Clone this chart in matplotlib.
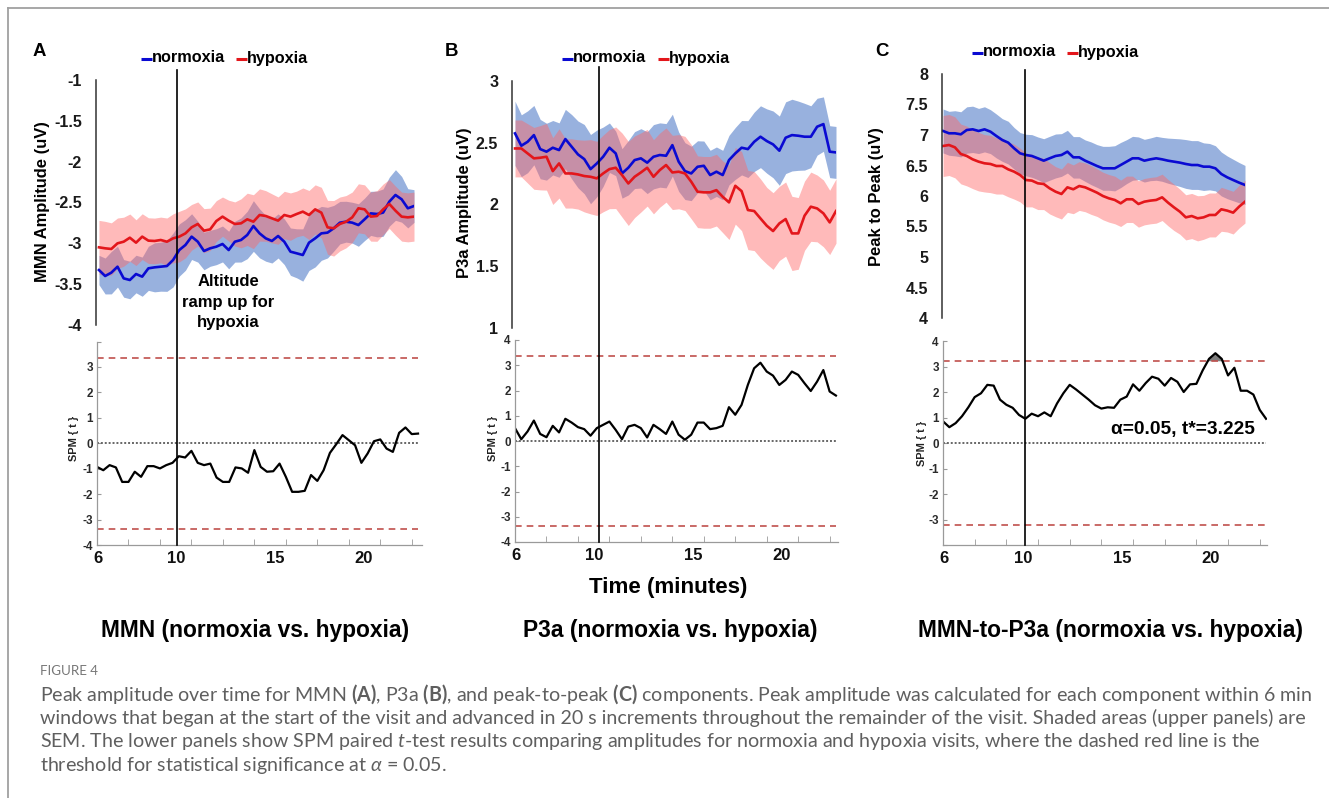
import numpy as np
import matplotlib
matplotlib.use("Agg")
import matplotlib.pyplot as plt
from matplotlib.lines import Line2D
from matplotlib.transforms import blended_transform_factory

# ------------------------------------------------------------------ data
t_start_min = 6.0
t_step_min = 20 / 60          # windows advance in 20 s steps
n_windows = 52
time_min = t_start_min + t_step_min * np.arange(n_windows)

mmn_normoxia = [-3.327, -3.400, -3.359, -3.286, -3.429, -3.449, -3.376, -3.408, -3.306, -3.294,
                -3.286, -3.278, -3.204, -3.082, -3.020, -2.918, -2.980, -3.094, -3.061, -3.041,
                -3.008, -3.082, -2.980, -2.959, -2.898, -2.788, -2.878, -2.939, -2.971, -2.910,
                -2.980, -3.102, -3.122, -3.143, -2.992, -2.939, -2.878, -2.869, -2.816, -2.747,
                -2.735, -2.747, -2.776, -2.706, -2.633, -2.641, -2.624, -2.490, -2.408, -2.461,
                -2.571, -2.543]
mmn_normoxia_sem = [0.18, 0.22, 0.26, 0.25, 0.23, 0.23, 0.23, 0.24, 0.27, 0.30,
                    0.30, 0.31, 0.33, 0.32, 0.31, 0.28, 0.25, 0.23, 0.22, 0.22,
                    0.22, 0.23, 0.25, 0.27, 0.29, 0.31, 0.30, 0.28, 0.27, 0.27,
                    0.28, 0.29, 0.30, 0.32, 0.34, 0.35, 0.33, 0.31, 0.28, 0.26,
                    0.25, 0.25, 0.26, 0.26, 0.27, 0.28, 0.29, 0.30, 0.31, 0.28,
                    0.24, 0.20]
mmn_hypoxia = [-3.049, -3.061, -3.069, -3.000, -2.980, -2.931, -2.992, -2.918, -2.967, -2.971,
               -2.959, -2.980, -2.939, -2.918, -2.878, -2.804, -2.763, -2.845, -2.829, -2.727,
               -2.673, -2.722, -2.763, -2.755, -2.706, -2.735, -2.653, -2.665, -2.694, -2.722,
               -2.653, -2.673, -2.641, -2.612, -2.653, -2.584, -2.624, -2.804, -2.816, -2.763,
               -2.735, -2.682, -2.571, -2.584, -2.673, -2.665, -2.584, -2.518, -2.600, -2.673,
               -2.682, -2.673]
mmn_hypoxia_sem = [0.33, 0.33, 0.32, 0.31, 0.30, 0.29, 0.28, 0.28, 0.28, 0.28,
                   0.28, 0.29, 0.30, 0.31, 0.30, 0.28, 0.27, 0.27, 0.26, 0.25,
                   0.24, 0.25, 0.27, 0.30, 0.32, 0.33, 0.32, 0.31, 0.30, 0.29,
                   0.29, 0.29, 0.28, 0.29, 0.30, 0.30, 0.31, 0.33, 0.34, 0.33,
                   0.32, 0.31, 0.30, 0.30, 0.30, 0.31, 0.31, 0.30, 0.30, 0.30,
                   0.30, 0.30]

p3a_normoxia = [2.574, 2.474, 2.506, 2.560, 2.447, 2.426, 2.458, 2.439, 2.528, 2.466,
                2.404, 2.366, 2.285, 2.331, 2.385, 2.458, 2.412, 2.250, 2.296, 2.358,
                2.372, 2.337, 2.385, 2.399, 2.393, 2.479, 2.345, 2.269, 2.250, 2.304,
                2.312, 2.237, 2.264, 2.237, 2.358, 2.412, 2.458, 2.447, 2.506, 2.547,
                2.512, 2.485, 2.434, 2.539, 2.560, 2.555, 2.547, 2.547, 2.628, 2.649,
                2.426, 2.420]
p3a_normoxia_sem = [0.26, 0.25, 0.25, 0.24, 0.24, 0.23, 0.22, 0.22, 0.24, 0.26,
                    0.27, 0.28, 0.28, 0.27, 0.24, 0.20, 0.18, 0.20, 0.22, 0.23,
                    0.24, 0.25, 0.26, 0.26, 0.26, 0.25, 0.24, 0.23, 0.22, 0.21,
                    0.20, 0.20, 0.20, 0.20, 0.20, 0.21, 0.22, 0.23, 0.24, 0.25,
                    0.26, 0.27, 0.28, 0.29, 0.29, 0.28, 0.27, 0.25, 0.23, 0.22,
                    0.21, 0.21]
p3a_hypoxia = [2.452, 2.452, 2.412, 2.372, 2.377, 2.385, 2.269, 2.331, 2.250, 2.250,
               2.242, 2.229, 2.223, 2.210, 2.250, 2.285, 2.296, 2.237, 2.169, 2.223,
               2.258, 2.296, 2.223, 2.277, 2.318, 2.258, 2.264, 2.250, 2.183, 2.102,
               2.097, 2.097, 2.115, 2.061, 2.016, 2.150, 2.107, 1.954, 1.946, 1.886,
               1.827, 1.784, 1.846, 1.881, 1.765, 1.765, 1.908, 1.981, 1.967, 1.927,
               1.854, 1.946]
p3a_hypoxia_sem = [0.23, 0.23, 0.24, 0.25, 0.26, 0.27, 0.27, 0.28, 0.28, 0.28,
                   0.28, 0.29, 0.30, 0.30, 0.31, 0.32, 0.33, 0.34, 0.34, 0.33,
                   0.32, 0.31, 0.30, 0.30, 0.30, 0.30, 0.30, 0.30, 0.30, 0.29,
                   0.29, 0.29, 0.29, 0.29, 0.30, 0.31, 0.32, 0.32, 0.32, 0.32,
                   0.31, 0.31, 0.30, 0.30, 0.30, 0.29, 0.28, 0.28, 0.27, 0.27,
                   0.26, 0.26]

p2p_normoxia = [7.066, 7.028, 7.028, 7.011, 7.082, 7.093, 7.066, 7.093, 7.055, 6.984,
                6.918, 6.875, 6.782, 6.700, 6.672, 6.656, 6.618, 6.579, 6.618, 6.656,
                6.672, 6.727, 6.634, 6.634, 6.579, 6.536, 6.492, 6.454, 6.454, 6.454,
                6.508, 6.563, 6.618, 6.618, 6.579, 6.601, 6.618, 6.601, 6.579, 6.563,
                6.547, 6.525, 6.508, 6.508, 6.481, 6.481, 6.454, 6.361, 6.306, 6.262,
                6.219, 6.181]
p2p_normoxia_sem = [0.36, 0.36, 0.37, 0.37, 0.38, 0.38, 0.37, 0.37, 0.36, 0.36,
                    0.35, 0.35, 0.34, 0.34, 0.34, 0.35, 0.35, 0.36, 0.36, 0.36,
                    0.35, 0.35, 0.34, 0.34, 0.34, 0.35, 0.35, 0.36, 0.36, 0.37,
                    0.37, 0.36, 0.36, 0.35, 0.35, 0.35, 0.36, 0.36, 0.37, 0.38,
                    0.39, 0.40, 0.40, 0.40, 0.39, 0.38, 0.37, 0.36, 0.35, 0.34,
                    0.33, 0.32]
p2p_hypoxia = [6.820, 6.836, 6.798, 6.689, 6.656, 6.601, 6.563, 6.536, 6.525, 6.492,
               6.492, 6.437, 6.399, 6.344, 6.262, 6.252, 6.208, 6.197, 6.126, 6.071,
               6.033, 6.142, 6.110, 6.164, 6.142, 6.099, 6.055, 6.000, 5.962, 5.935,
               5.880, 5.946, 5.946, 5.869, 5.907, 5.924, 5.935, 5.978, 5.891, 5.814,
               5.743, 5.650, 5.672, 5.634, 5.650, 5.689, 5.689, 5.782, 5.760, 5.727,
               5.825, 5.907]
p2p_hypoxia_sem = [0.50, 0.50, 0.50, 0.49, 0.49, 0.48, 0.48, 0.47, 0.47, 0.46,
                   0.46, 0.45, 0.45, 0.44, 0.44, 0.43, 0.43, 0.42, 0.42, 0.41,
                   0.41, 0.41, 0.40, 0.40, 0.40, 0.40, 0.39, 0.39, 0.39, 0.39,
                   0.38, 0.38, 0.38, 0.38, 0.38, 0.38, 0.38, 0.38, 0.38, 0.38,
                   0.37, 0.37, 0.37, 0.37, 0.36, 0.36, 0.36, 0.36, 0.35, 0.35,
                   0.35, 0.35]

spm_mmn = [-0.93, -1.06, -0.86, -0.95, -1.52, -1.52, -1.12, -1.32, -0.90, -0.90,
           -0.99, -0.86, -0.77, -0.51, -0.56, -0.30, -0.77, -0.86, -0.80, -1.35,
           -1.52, -1.52, -0.95, -0.99, -1.16, -0.27, -0.93, -1.12, -1.10, -0.80,
           -1.32, -1.91, -1.91, -1.87, -1.25, -1.48, -1.06, -0.38, -0.04, 0.32,
           0.12, -0.08, -0.77, -0.40, 0.08, 0.15, -0.21, -0.34, 0.41, 0.62,
           0.36, 0.38]
spm_p3a = [0.51, 0.07, 0.38, 0.81, 0.28, 0.15, 0.60, 0.34, 0.88, 0.73,
           0.55, 0.47, 0.21, 0.51, 0.64, 0.77, 0.44, 0.07, 0.57, 0.64,
           0.51, 0.14, 0.64, 0.47, 0.28, 0.77, 0.25, 0.05, 0.25, 0.73,
           0.73, 0.47, 0.51, 0.60, 1.34, 1.04, 1.43, 2.22, 2.88, 3.10,
           2.75, 2.59, 2.22, 2.42, 2.75, 2.62, 2.29, 1.98, 2.35, 2.81,
           1.96, 1.80]
spm_p2p = [0.85, 0.62, 0.78, 1.05, 1.40, 1.80, 1.95, 2.28, 2.25, 1.70,
           1.50, 1.38, 1.10, 0.95, 1.15, 1.05, 1.20, 1.05, 1.55, 1.95,
           2.28, 2.10, 1.90, 1.70, 1.48, 1.35, 1.40, 1.38, 1.70, 1.82,
           2.30, 2.05, 2.35, 2.60, 2.52, 2.25, 2.55, 2.40, 2.00, 2.30,
           2.32, 2.85, 3.30, 3.52, 3.30, 2.65, 2.95, 2.05, 2.05, 1.90,
           1.30, 0.95]

spm_thresholds = [3.36, 3.36, 3.225]
ramp_start_min = [10.24, 10.45, 10.32]

panel_letters = ["A", "B", "C"]
upper_ylabels = ["MMN Amplitude (uV)", "P3a Amplitude (uV)", "Peak to Peak (uV)"]
upper_ylims = [(-4, -1), (1, 3), (4, 8)]
upper_yticks = [[-1, -1.5, -2, -2.5, -3, -3.5, -4],
                [3, 2.5, 2, 1.5, 1],
                [8, 7.5, 7, 6.5, 6, 5.5, 5, 4.5, 4]]
upper_yticklabels = [["-1", "-1.5", "-2", "-2.5", "-3", "-3.5", "-4"],
                     ["3", "2.5", "2", "1.5", "1"],
                     ["8", "7.5", "7", "6.5", "6", "5.5", "5", "4.5", "4"]]
spm_yticks = [-4, -3, -2, -1, 0, 1, 2, 3, 4]
spm_yticklabels = [["-4", "-3", "-2", "-1", "0", "1", "2", "3", ""],
                   ["-4", "-3", "-2", "-1", "0", "1", "2", "3", "4"],
                   ["", "-3", "-2", "-1", "0", "1", "2", "3", "4"]]
time_ticklabels = ["6", "10", "15", "20"]
panel_titles = ["MMN (normoxia vs. hypoxia)", "P3a (normoxia vs. hypoxia)",
                "MMN-to-P3a (normoxia vs. hypoxia)"]
legend_labels = ["normoxia", "hypoxia"]
ramp_text = ["Altitude", "ramp up for", "hypoxia"]
sig_text = "\u03b1=0.05, t*=3.225"
xlabel_text = "Time (minutes)"
figure_label = "FIGURE 4"
caption_lines = [
    r"Peak amplitude over time for MMN $\mathbf{(A)}$, P3a $\mathbf{(B)}$, and peak-to-peak "
    r"$\mathbf{(C)}$ components. Peak amplitude was calculated for each component within 6 min",
    r"windows that began at the start of the visit and advanced in 20 s increments throughout "
    r"the remainder of the visit. Shaded areas (upper panels) are",
    r"SEM. The lower panels show SPM paired $t$-test results comparing amplitudes for normoxia "
    r"and hypoxia visits, where the dashed red line is the",
    r"threshold for statistical significance at $\alpha$ = 0.05.",
]

series = [
    (mmn_normoxia, mmn_normoxia_sem, mmn_hypoxia, mmn_hypoxia_sem, spm_mmn),
    (p3a_normoxia, p3a_normoxia_sem, p3a_hypoxia, p3a_hypoxia_sem, spm_p3a),
    (p2p_normoxia, p2p_normoxia_sem, p2p_hypoxia, p2p_hypoxia_sem, spm_p2p),
]

# ------------------------------------------------------------------ style
W, H, DPI = 1329, 798, 100
plt.rcParams["font.family"] = ["Liberation Sans", "DejaVu Sans"]
plt.rcParams["mathtext.fontset"] = "custom"
plt.rcParams["mathtext.rm"] = "Lato"
plt.rcParams["mathtext.bf"] = "Lato:bold"
plt.rcParams["mathtext.it"] = "Lato:italic"

BLUE = "#0a0ad2"
RED = "#e3161b"
BLUE_FILL = "#4472c4"
RED_FILL = "#ff6666"
DASH_RED = "#c0504d"
CAPTION_GREY = "#5f5f5f"

fig = plt.figure(figsize=(W / DPI, H / DPI), dpi=DPI)
fig.patch.set_facecolor("white")


def fx(x):
    return x / W


def fy(y):
    return 1 - y / H


def px_axes(x0, y0, x1, y1):
    ax = fig.add_axes([fx(x0), fy(y1), (x1 - x0) / W, (y1 - y0) / H])
    ax.patch.set_alpha(0)
    return ax


def ftext(x, y, s, **kw):
    return fig.text(fx(x), fy(y), s, **kw)


def fline(x0, y0, x1, y1, **kw):
    fig.add_artist(Line2D([fx(x0), fx(x1)], [fy(y0), fy(y1)],
                          transform=fig.transFigure, **kw))


# pixel layout of the three panels
layout = [
    dict(up=(96, 80, 414, 325), up_xl=5.84, low=(97, 341.5, 422, 545), low_xr=23.21,
         ramp_top=70, letter=(39, 52), leg_y=59, leg_x=(141, 152, 236, 247),
         ylab=(43, 202), spmlab=(74, 438), title_x=255),
    dict(up=(512, 80.7, 836, 328), up_xl=5.84, low=(515, 340, 838, 542), low_xr=23.11,
         ramp_top=67, letter=(452, 52), leg_y=59, leg_x=(562, 573, 658, 669),
         ylab=(465, 203), spmlab=(493, 438), title_x=670),
    dict(up=(942, 74, 1245, 318), up_xl=5.94, low=(943, 341, 1267, 545), low_xr=23.05,
         ramp_top=70, letter=(882, 52), leg_y=53, leg_x=(972, 983, 1067, 1078),
         ylab=(877, 197), spmlab=(922, 443), title_x=1110),
]
label_pos_min = [6.05, 10.2, 15.45, 20.1]
minor_tick_min = t_start_min + np.arange(0, 17, 5 / 3)

for i, L in enumerate(layout):
    norm, norm_sem, hyp, hyp_sem, spm = [np.asarray(a, float) for a in series[i]]

    # ---- upper panel
    x0, y0, x1, y1 = L["up"]
    ax = px_axes(x0, y0, x1, y1)
    ax.set_xlim(L["up_xl"], 23)
    ax.set_ylim(*upper_ylims[i])
    ax.fill_between(time_min, norm - norm_sem, norm + norm_sem, color=BLUE_FILL,
                    alpha=0.55, lw=0)
    ax.fill_between(time_min, hyp - hyp_sem, hyp + hyp_sem, color=RED_FILL,
                    alpha=0.45, lw=0)
    ax.plot(time_min, norm, color=BLUE, lw=1.9, solid_joinstyle="round")
    ax.plot(time_min, hyp, color=RED, lw=1.9, solid_joinstyle="round")
    for s in ("top", "right", "bottom"):
        ax.spines[s].set_visible(False)
    ax.spines["left"].set_color("#333333")
    ax.spines["left"].set_linewidth(1.1)
    ax.set_xticks([])
    ax.set_yticks(upper_yticks[i])
    ax.set_yticklabels(upper_yticklabels[i], fontsize=11.6, fontweight="bold",
                       color="#1a1a1a")
    ax.tick_params(axis="y", length=0, pad=10)

    # ---- lower panel (SPM)
    lx0, ly0, lx1, ly1 = L["low"]
    ax2 = px_axes(lx0, ly0, lx1, ly1)
    ax2.set_xlim(6, L["low_xr"])
    ax2.set_ylim(-4, 4)
    thr = spm_thresholds[i]
    ax2.hlines(0, time_min[0], time_min[-1], color="#666666", lw=1.4,
               linestyles=(0, (1, 1)))
    ax2.hlines([thr, -thr], time_min[0], time_min[-1], color=DASH_RED, lw=1.2,
               linestyles=(0, (4, 3)))
    if i == 2:
        ax2.fill_between(time_min, thr, spm, where=spm > thr, interpolate=True,
                         color="#7f7f7f", lw=0)
    ax2.plot(time_min, spm, color="black", lw=1.6, solid_joinstyle="round")
    for s in ("top", "right"):
        ax2.spines[s].set_visible(False)
    for s in ("left", "bottom"):
        ax2.spines[s].set_color("#9a9a9a")
        ax2.spines[s].set_linewidth(0.9)
    ax2.set_yticks(spm_yticks)
    ax2.set_yticklabels(spm_yticklabels[i], fontsize=8.4, fontweight="bold",
                        color="#2a2a2a")
    ax2.tick_params(axis="y", direction="in", length=3, color="#9a9a9a", pad=3)
    ax2.set_xticks(label_pos_min)
    ax2.set_xticklabels(time_ticklabels, fontsize=12, fontweight="bold", color="#111111")
    ax2.set_xticks(minor_tick_min, minor=True)
    ax2.tick_params(axis="x", which="major", length=0, pad=4)
    ax2.tick_params(axis="x", which="minor", direction="in", length=4, color="#9a9a9a")

    # ---- altitude-ramp vertical line through both panels
    tr = blended_transform_factory(ax2.transData, fig.transFigure)
    fig.add_artist(Line2D([ramp_start_min[i]] * 2, [fy(L["ramp_top"]), fy(ly1)],
                          transform=tr, color="black", lw=1.2))

    # ---- texts
    ftext(*L["letter"], panel_letters[i], fontsize=13.4, fontweight="bold",
          ha="center", va="center")
    bx0, bx1, rx0, rx1 = L["leg_x"]
    ly = L["leg_y"]
    fline(bx0, ly, bx1, ly, color=BLUE, lw=2.2, solid_capstyle="butt")
    ftext(bx1, ly - 1, legend_labels[0], fontsize=11.7, fontweight="bold",
          ha="left", va="center")
    fline(rx0, ly, rx1, ly, color=RED, lw=2.2, solid_capstyle="butt")
    ftext(rx1, ly - 1, legend_labels[1], fontsize=11.7, fontweight="bold",
          ha="left", va="center")
    ftext(*L["ylab"], upper_ylabels[i], fontsize=11.9, fontweight="bold",
          rotation=90, ha="center", va="center")
    ftext(*L["spmlab"], "SPM { t }", fontsize=7.9, fontweight="bold",
          rotation=90, ha="center", va="center", color="#222222")
    ftext(L["title_x"], 631, panel_titles[i], fontsize=16.4, fontweight="bold",
          ha="center", va="center")

# ramp annotation, x label, significance text
for yy, s in zip([282, 302.5, 322.5], ramp_text):
    ftext(228, yy, s, fontsize=12, fontweight="bold", ha="center", va="center")
ftext(668, 587, xlabel_text, fontsize=16.1, fontweight="bold", ha="center", va="center")
ftext(1255, 429, sig_text, fontsize=13.8, fontweight="bold", ha="right", va="center")

# frame lines of the figure page
fline(8, 8, 8, 798, color="#a0a0a0", lw=1.3)
fline(8, 8, 1329, 8, color="#a0a0a0", lw=1.3)

# caption
ftext(40, 671, figure_label, fontsize=9.6, color="#777777", ha="left", va="center",
      family="Lato")
renderer = fig.canvas.get_renderer()
probe = ftext(40, 694, caption_lines[0], fontsize=12, color=CAPTION_GREY, ha="left",
              va="center", family="Lato")
w = probe.get_window_extent(renderer=renderer).width
cap_size = 12 * (1313 - 40) / w
probe.remove()
for yy, line in zip([694, 718, 742, 766], caption_lines):
    ftext(40, yy, line, fontsize=cap_size, color=CAPTION_GREY, ha="left", va="center",
          family="Lato")

fig.savefig("out.png", dpi=DPI)
